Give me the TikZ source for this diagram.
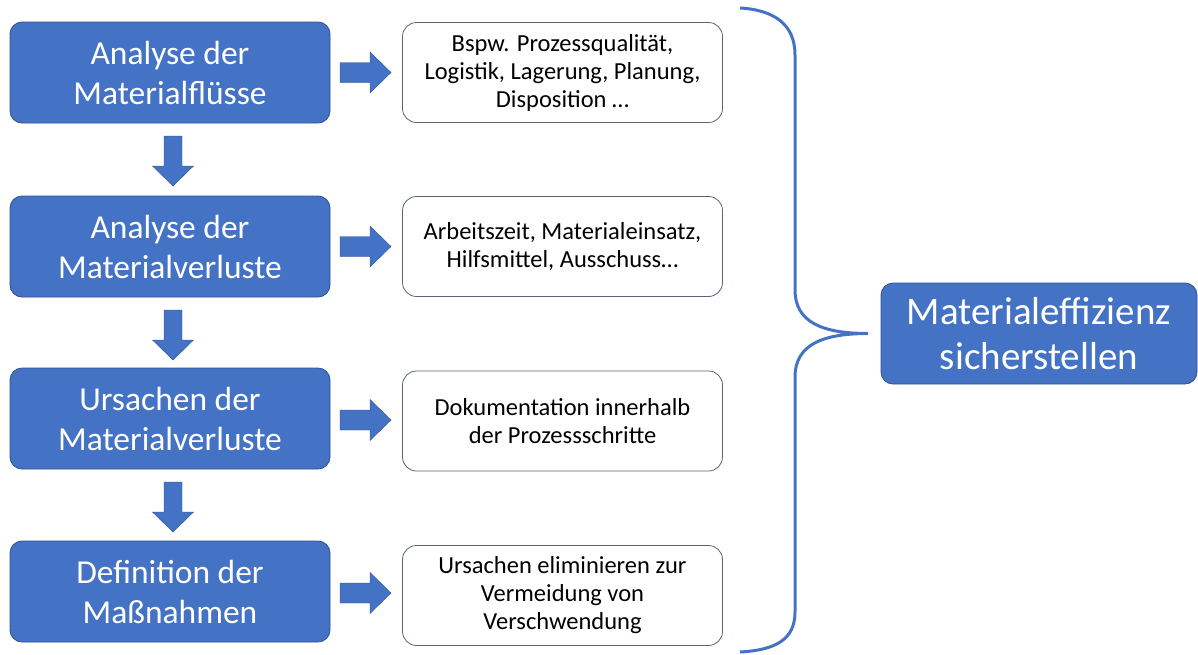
\documentclass[tikz,border=0pt]{standalone}
\usepackage{fontspec}
\setmainfont{Carlito}
\definecolor{obl}{HTML}{4472C4}
\definecolor{obd}{HTML}{2F528F}
\definecolor{gbd}{HTML}{5A6675}
\begin{document}
\begin{tikzpicture}[x=1pt,y=-1pt,
  bluebox/.style={draw=obd,line width=0.8pt,fill=obl,rounded corners=12pt,minimum width=320pt,minimum height=101pt,inner sep=0pt,text=white,align=center,font=\fontsize{33.5}{40}\selectfont},
  whitebox/.style={draw=gbd,line width=0.8pt,fill=white,rounded corners=14pt,minimum width=320pt,minimum height=100pt,inner sep=0pt,text=black,align=center,font=\fontsize{24.5}{28}\selectfont},
  arrowfill/.style={fill=obl,draw=obd,line width=0.4pt},
  brace/.style={draw=obl,line width=3pt},
  rarr/.pic={\path[arrowfill] (-25.5,-10) -- (4.5,-10) -- (4.5,-20.5) -- (25.5,0) -- (4.5,20.5) -- (4.5,10) -- (-25.5,10) -- cycle;},
  darr/.pic={\path[arrowfill] (-9,-25) -- (9,-25) -- (9,5) -- (20.5,5) -- (0,25) -- (-20.5,5) -- (-9,5) -- cycle;}
]
\useasboundingbox (0,0) rectangle (1198,654);
\node[bluebox] (b1) at (170,72.5) {Analyse der\\Materialflüsse};
\node[bluebox] (b2) at (170,246.5) {Analyse der\\Materialverluste};
\node[bluebox] (b3) at (170,418.5) {Ursachen der\\Materialverluste};
\node[bluebox] (b4) at (170,591.5) {Definition der\\Maßnahmen};
\node[whitebox] (w1) at (562.5,72.5) {Bspw. Prozessqualität,\\Logistik, Lagerung, Planung,\\Disposition …};
\node[whitebox] (w2) at (562.5,246.5) {Arbeitszeit, Materialeinsatz,\\Hilfsmittel, Ausschuss…};
\node[whitebox] (w3) at (562.5,421) {Dokumentation innerhalb\\der Prozessschritte};
\node[whitebox] (w4) at (562.5,595.5) {Ursachen eliminieren zur\\Vermeidung von\\Verschwendung};
\pic (r1) at (365.5,72.5) {rarr};
\pic (r2) at (365.5,246.5) {rarr};
\pic (r3) at (365.5,420) {rarr};
\pic (r4) at (365.5,593) {rarr};
\pic (d1) at (173,161) {darr};
\pic (d2) at (173,335) {darr};
\pic (d3) at (173,507) {darr};
\node[bluebox,minimum width=316pt,font=\fontsize{39}{45}\selectfont] (m) at (1039,333.5) {Materialeffizienz\\sicherstellen};
\coordinate (bt) at (740,8);
\coordinate (bb) at (740,652);
\coordinate (tip) at (868,333.5);
\draw[brace] (bt) .. controls (775,10) and (795,25) .. (795,55) -- (795,290)
  .. controls (795,322) and (822,333.5) .. (tip)
  .. controls (822,333.5) and (795,345) .. (795,377) -- (795,612)
  .. controls (795,640) and (775,650) .. (bb);
\end{tikzpicture}
\end{document}
